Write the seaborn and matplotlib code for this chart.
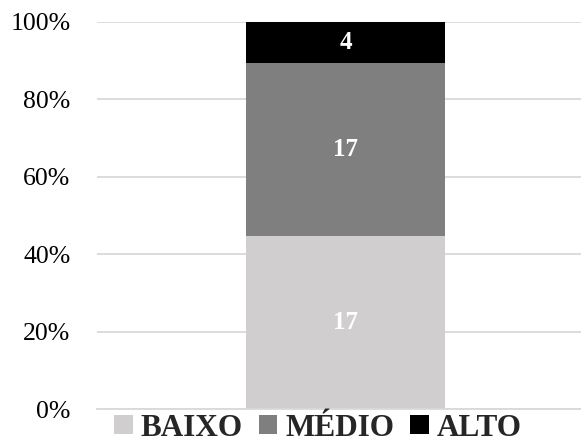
import matplotlib
matplotlib.use("Agg")
import matplotlib.pyplot as plt
from matplotlib.patches import Patch
from matplotlib.ticker import PercentFormatter
import numpy as np
import pandas as pd
import seaborn as sns

levels = ["BAIXO", "MÉDIO", "ALTO"]
counts = [17, 17, 4]
colors = ["#d0cece", "#7f7f7f", "#000000"]
category = [""]

sns.set_theme(style="white")
plt.rcParams["font.family"] = ["Liberation Serif", "DejaVu Serif"]

total = sum(counts)
shares = [c / total * 100 for c in counts]
tops = np.cumsum(shares)
bottoms = tops - np.array(shares)

fig = plt.figure(figsize=(5.81, 4.43), dpi=100)
ax = fig.add_axes([97 / 581, 34 / 443, 497 / 581, 387 / 443])

# Stacked layers: draw from the tallest cumulative height down
for i in reversed(range(len(levels))):
    df = pd.DataFrame({"cat": category, "pct": [tops[i]]})
    sns.barplot(data=df, x="cat", y="pct", color=colors[i], width=0.40,
                saturation=1, linewidth=0, ax=ax, zorder=2)

for i, (lvl, c) in enumerate(zip(levels, counts)):
    ax.text(0, bottoms[i] + shares[i] / 2, str(c), ha="center", va="center",
            color="white", fontsize=18, fontweight="bold", zorder=3)

ax.set_xlim(-0.5, 0.5)
ax.set_ylim(0, 100)
ax.set_yticks(np.arange(0, 101, 20))
ax.yaxis.set_major_formatter(PercentFormatter(decimals=0))
ax.yaxis.grid(True, color="#d9d9d9", linewidth=1.3, zorder=0)
ax.set_axisbelow(True)
ax.set_xlabel("")
ax.set_ylabel("")
ax.set_xticks([])
for s in ["top", "right", "left"]:
    ax.spines[s].set_visible(False)
ax.spines["bottom"].set_color("#d9d9d9")
ax.spines["bottom"].set_linewidth(1.3)
ax.tick_params(axis="y", length=0, labelsize=18.5, pad=19, colors="black")

handles = [Patch(facecolor=col, edgecolor="none") for col in colors]
fig.legend(handles, levels, loc="lower center", ncol=3, frameon=False,
           bbox_to_anchor=(0.547, -0.056), prop={"size": 22.5, "weight": "bold"},
           handlelength=0.6, handleheight=0.55, handletextpad=0.25,
           columnspacing=0.5, borderpad=0.3)

fig.savefig("out.png", dpi=100, facecolor="white")
